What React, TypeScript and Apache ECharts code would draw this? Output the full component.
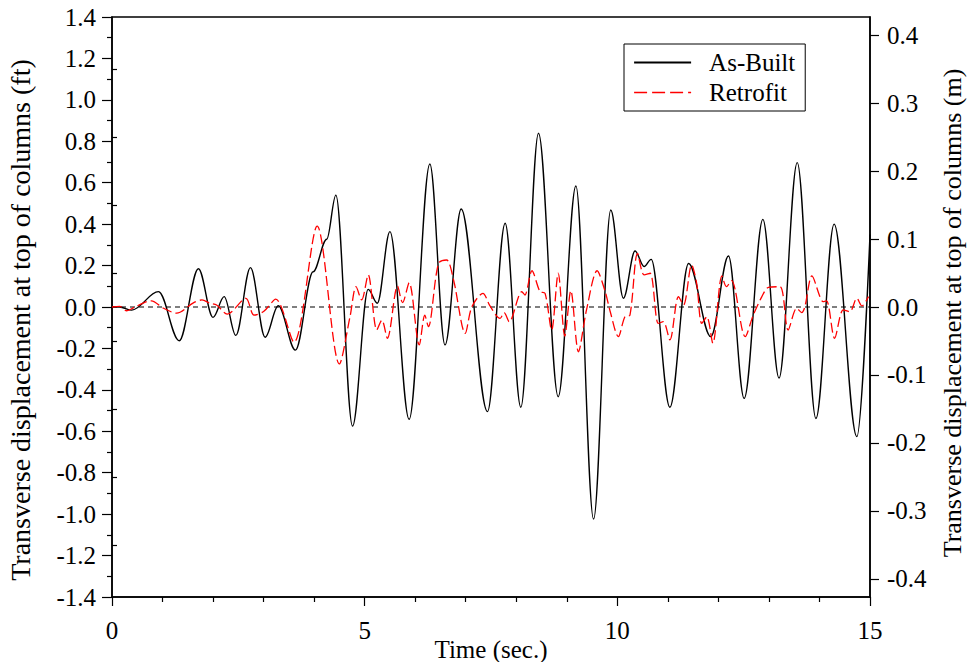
import React, { useEffect, useRef } from "react";
import * as echarts from "echarts";

// As-Built: time (s) and transverse displacement (ft), read at extrema / shoulders
const asBuiltT = [0, 0.15, 0.39, 0.92, 1.33, 1.71, 2.0, 2.22, 2.45, 2.74, 3.03, 3.29, 3.63, 3.98, 4.25, 4.43, 4.76, 5.07, 5.25, 5.5, 5.88, 6.29, 6.59, 6.91, 7.43, 7.78, 8.09, 8.44, 8.83, 9.18, 9.53, 9.87, 10.12, 10.35, 10.53, 10.67, 11.04, 11.41, 11.85, 12.2, 12.51, 12.88, 13.2, 13.56, 13.93, 14.29, 14.74, 15.0];
const asBuiltV = [0, 0, -0.015, 0.074, -0.163, 0.185, -0.05, 0.05, -0.137, 0.19, -0.146, 0.006, -0.208, 0.17, 0.327, 0.54, -0.575, 0.085, 0.018, 0.364, -0.542, 0.69, -0.183, 0.473, -0.505, 0.404, -0.484, 0.839, -0.433, 0.584, -1.024, 0.468, 0.042, 0.27, 0.195, 0.23, -0.484, 0.21, -0.143, 0.246, -0.441, 0.423, -0.343, 0.697, -0.538, 0.4, -0.626, 0.35];

// Retrofit: time (s) and transverse displacement (ft)
const retrofitT = [0, 0.15, 0.29, 0.45, 0.69, 0.78, 1.02, 1.28, 1.61, 1.78, 1.94, 2.07, 2.28, 2.65, 2.81, 3.0, 3.24, 3.6, 4.06, 4.5, 4.71, 4.83, 4.94, 5.07, 5.24, 5.34, 5.45, 5.65, 5.75, 5.88, 6.08, 6.19, 6.26, 6.46, 6.62, 6.76, 6.99, 7.12, 7.34, 7.48, 7.68, 7.76, 7.86, 8.11, 8.17, 8.31, 8.47, 8.57, 8.7, 8.83, 8.96, 9.08, 9.23, 9.39, 9.6, 9.76, 9.86, 10.02, 10.15, 10.25, 10.4, 10.53, 10.65, 10.81, 10.91, 11.04, 11.21, 11.31, 11.47, 11.57, 11.67, 11.77, 11.89, 12.07, 12.16, 12.26, 12.53, 12.69, 12.86, 12.99, 13.22, 13.38, 13.55, 13.65, 13.71, 13.85, 14.01, 14.07, 14.14, 14.3, 14.47, 14.6, 14.74, 14.84, 14.97];
const retrofitV = [0, 0.003, -0.018, 0.0, 0.026, 0.03, -0.006, -0.03, 0.02, 0.034, 0.018, 0.01, -0.034, 0.042, -0.039, -0.022, 0.038, -0.17, 0.39, -0.275, -0.047, 0.098, 0.034, 0.155, -0.111, -0.063, -0.151, 0.101, 0.021, 0.117, -0.183, -0.039, -0.095, 0.211, 0.227, 0.13, -0.127, 0.0, 0.066, 0.005, -0.055, -0.027, -0.071, 0.074, 0.058, 0.175, 0.074, 0.066, -0.111, 0.163, -0.14, 0.079, -0.216, -0.014, 0.175, 0.074, -0.023, -0.143, -0.047, -0.039, 0.259, 0.155, 0.163, -0.079, -0.071, -0.159, 0.05, 0.01, 0.203, 0.114, -0.079, -0.047, -0.175, 0.15, 0.098, 0.127, -0.143, -0.039, 0.05, 0.095, 0.098, -0.111, -0.006, -0.027, 0.0, 0.15, 0.05, 0.026, 0.03, -0.151, -0.014, -0.023, 0.042, 0.005, 0.05];

// zero reference line (ft)
const zeroLineT = [0, 15];
const zeroLineV = [0, 0];

const FT_TO_M = 0.3048;
const leftMax = 1.4;
const rightMajorTicks = [-0.4, -0.3, -0.2, -0.1, 0.0, 0.1, 0.2, 0.3, 0.4];
const rightMinorTicks = [-0.35, -0.25, -0.15, -0.05, 0.05, 0.15, 0.25, 0.35];

const FONT = "'Liberation Serif', 'Times New Roman', serif";

export default function App() {
  const ref = useRef<HTMLDivElement>(null);
  useEffect(() => {
    if (!ref.current) return;
    const chart = echarts.init(ref.current, undefined, { renderer: "svg" });
    const asBuilt = asBuiltT.map((t, i) => [t, asBuiltV[i]]);
    const retrofit = retrofitT.map((t, i) => [t, retrofitV[i]]);
    const zero = zeroLineT.map((t, i) => [t, zeroLineV[i]]);
    const rMax = leftMax * FT_TO_M;
    const txt = { color: "#000", fontFamily: FONT, fontSize: 25 };
    const axisLine = { show: true, onZero: false, lineStyle: { color: "#000", width: 1.5 } };
    chart.setOption({
      animation: false,
      backgroundColor: "#fff",
      grid: {
        left: 112,
        right: 97,
        top: 17,
        bottom: 65,
        show: true,
        borderColor: "#000",
        borderWidth: 1.5,
        containLabel: false,
        outerBoundsMode: "none",
      },
      legend: {
        show: true,
        orient: "vertical",
        left: 624,
        top: 44,
        padding: [6, 10, 6, 9],
        itemWidth: 57,
        itemHeight: 25,
        itemGap: 5,
        borderColor: "#000",
        borderWidth: 1,
        backgroundColor: "#fff",
        itemStyle: { color: "transparent", borderColor: "transparent", borderWidth: 0, opacity: 0 },
        textStyle: { ...txt, padding: [0, 0, 0, 13] },
        data: [
          { name: "As-Built", lineStyle: { width: 2.2 } },
          { name: "Retrofit", lineStyle: { width: 1.4, type: [13, 5] } },
        ],
      },
      xAxis: {
        type: "value",
        min: 0,
        max: 15,
        interval: 5,
        axisLine,
        axisTick: { show: true, inside: false, length: 9, lineStyle: { color: "#000", width: 1.2 } },
        minorTick: { show: true, splitNumber: 5, length: 5, lineStyle: { color: "#000", width: 1.2 } },
        axisLabel: { ...txt, margin: 21 },
        splitLine: { show: false },
        name: "Time (sec.)",
        nameLocation: "middle",
        nameGap: 40,
        nameMoveOverlap: false,
        nameTextStyle: txt,
      },
      yAxis: [
        {
          type: "value",
          position: "left",
          min: -leftMax,
          max: leftMax,
          interval: 0.2,
          axisLine,
          axisTick: { show: true, inside: false, length: 10, lineStyle: { color: "#000", width: 1.2 } },
          minorTick: { show: true, splitNumber: 2, length: 5, lineStyle: { color: "#000", width: 1.2 } },
          axisLabel: { ...txt, margin: 16, formatter: (v: number) => v.toFixed(1) },
          splitLine: { show: false },
          name: "Transverse displacement at top of columns (ft)",
          nameLocation: "middle",
          nameGap: 78,
          nameRotate: 90,
          nameMoveOverlap: false,
          nameTextStyle: { ...txt, fontSize: 28, padding: [0, 26, 0, 0] },
        },
        {
          type: "value",
          position: "right",
          min: -rMax,
          max: rMax,
          axisLine,
          axisTick: { show: true, inside: false, length: 9, customValues: rightMajorTicks, lineStyle: { color: "#000", width: 1.2 } },
          axisLabel: { ...txt, margin: 17, customValues: rightMajorTicks, formatter: (v: number) => v.toFixed(1) },
          splitLine: { show: false },
          name: "Transverse displacement at top of columns (m)",
          nameLocation: "middle",
          nameGap: 69,
          nameRotate: 90,
          nameMoveOverlap: false,
          nameTextStyle: { ...txt, fontSize: 26, padding: [0, 12, 0, 0] },
        },
        {
          type: "value",
          position: "right",
          min: -rMax,
          max: rMax,
          axisLine: { show: false },
          axisTick: { show: true, inside: false, length: 5, customValues: rightMinorTicks, lineStyle: { color: "#000", width: 1.2 } },
          axisLabel: { show: false },
          splitLine: { show: false },
        },
      ],
      series: [
        {
          name: "zero",
          type: "line",
          data: zero,
          yAxisIndex: 0,
          symbol: "none",
          silent: true,
          lineStyle: { color: "#000", width: 1.1, type: [5, 4] },
          z: 1,
        },
        {
          name: "As-Built",
          type: "line",
          data: asBuilt,
          yAxisIndex: 0,
          symbol: "none",
          smooth: 0.35,
          smoothMonotone: "x",
          lineStyle: { color: "#000", width: 1.4 },
          itemStyle: { color: "#000" },
          z: 2,
        },
        {
          name: "Retrofit",
          type: "line",
          data: retrofit,
          yAxisIndex: 0,
          symbol: "none",
          smooth: 0.3,
          lineStyle: { color: "#ff0000", width: 1.3, type: [10, 4] },
          itemStyle: { color: "#ff0000" },
          z: 3,
        },
      ],
    });
    return () => chart.dispose();
  }, []);
  return (
    <div
      ref={ref}
      style={{ position: "fixed", left: 0, top: 0, width: 967, height: 662, background: "#fff" }}
    />
  );
}
